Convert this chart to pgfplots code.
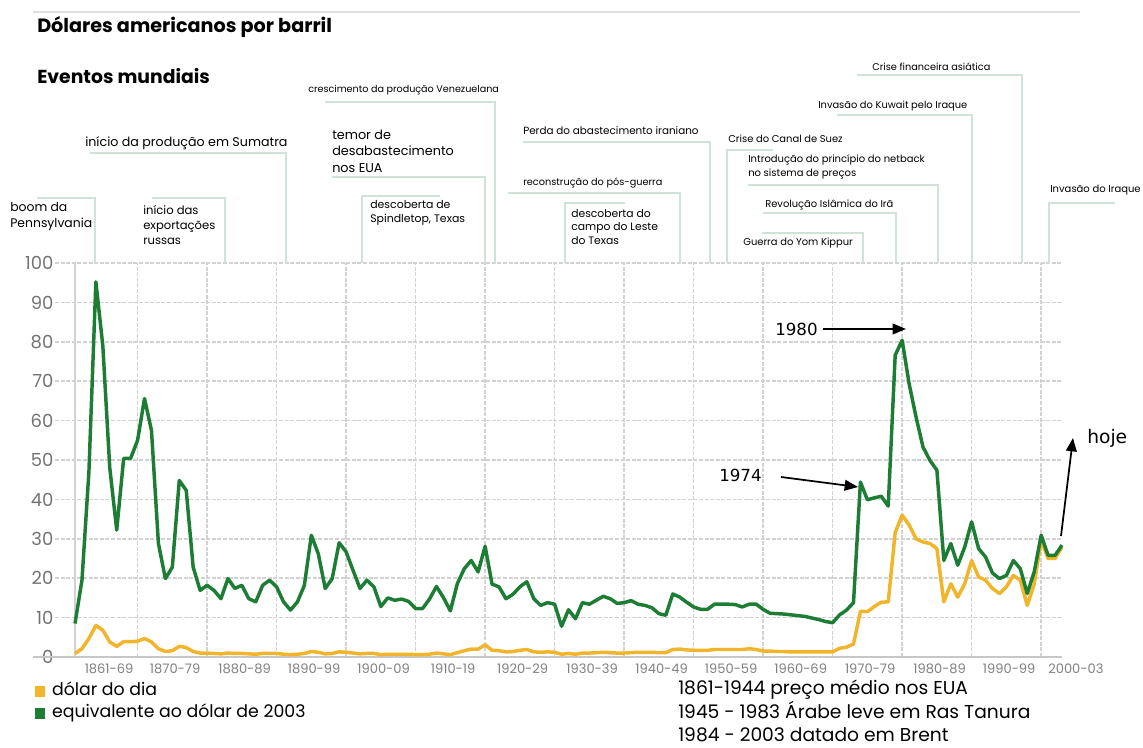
\documentclass[border=0pt]{standalone}
\usepackage{pgfplots}
\pgfplotsset{compat=1.18}
\usepackage{pgfplotstable}
\usepackage{fontspec}
\setmainfont{Poppins}
\newfontfamily\arrfont{DejaVu Sans}
\usetikzlibrary{arrows.meta}
\definecolor{grn}{HTML}{1E7D34}
\definecolor{ylw}{HTML}{F2B42A}
\definecolor{brk}{HTML}{CFE3D8}
\definecolor{grd}{HTML}{D2D2D2}

\pgfplotstableread{
year real
1861 8.5
1862 19.5
1863 47
1864 95.2
1865 79
1866 48
1867 32.2
1868 50.4
1869 50.4
1870 55
1871 65.6
1872 57.5
1873 28.8
1874 19.9
1875 22.8
1876 44.8
1877 42.3
1878 22.8
1879 16.9
1880 18.2
1881 16.9
1882 14.8
1883 19.9
1884 17.4
1885 18.2
1886 14.8
1887 14.0
1888 18.2
1889 19.5
1890 17.8
1891 14.0
1892 11.9
1893 14.0
1894 18.2
1895 30.9
1896 26.2
1897 17.4
1898 19.9
1899 29.0
1900 26.7
1901 22.0
1902 17.4
1903 19.5
1904 17.8
1905 12.8
1906 15.0
1907 14.4
1908 14.7
1909 14.1
1910 12.3
1911 12.3
1912 14.7
1913 17.9
1914 15.1
1915 11.7
1916 18.6
1917 22.4
1918 24.5
1919 21.6
1920 28.1
1921 18.5
1922 17.8
1923 14.8
1924 15.9
1925 17.8
1926 19.1
1927 14.8
1928 13.1
1929 13.8
1930 13.4
1931 7.8
1932 12.0
1933 9.7
1934 13.8
1935 13.4
1936 14.4
1937 15.4
1938 14.8
1939 13.6
1940 13.8
1941 14.3
1942 13.4
1943 13.1
1944 12.5
1945 11.0
1946 10.6
1947 16.0
1948 15.2
1949 13.9
1950 12.7
1951 12.1
1952 12.1
1953 13.4
1954 13.4
1955 13.4
1956 13.3
1957 12.7
1958 13.4
1959 13.4
1960 12.1
1961 11.1
1962 11.0
1963 10.9
1964 10.7
1965 10.5
1966 10.3
1967 9.9
1968 9.5
1969 9.0
1970 8.7
1971 10.7
1972 11.9
1973 13.8
1974 44.4
1975 39.9
1976 40.4
1977 40.8
1978 38.3
1979 76.6
1980 80.4
1981 69.4
1982 60.9
1983 53.3
1984 49.9
1985 47.4
1986 24.5
1987 28.8
1988 23.3
1989 27.9
1990 34.3
1991 27.5
1992 25.4
1993 21.3
1994 19.9
1995 20.7
1996 24.5
1997 22.4
1998 16.1
1999 21.6
2000 30.9
2001 25.8
2002 25.8
2003 28.4
}\realtable

\pgfplotstableread{
year nominal
1861 0.9
1862 2.1
1863 4.7
1864 8.0
1865 6.8
1866 3.8
1867 2.7
1868 3.9
1869 3.9
1870 4.0
1871 4.7
1872 3.8
1873 2.1
1874 1.4
1875 1.6
1876 2.7
1877 2.4
1878 1.4
1879 1.0
1880 1.0
1881 0.9
1882 0.8
1883 1.0
1884 0.9
1885 0.9
1886 0.8
1887 0.7
1888 0.9
1889 0.9
1890 0.9
1891 0.7
1892 0.6
1893 0.7
1894 0.9
1895 1.4
1896 1.2
1897 0.8
1898 0.9
1899 1.3
1900 1.2
1901 1.0
1902 0.8
1903 0.9
1904 0.9
1905 0.6
1906 0.7
1907 0.7
1908 0.7
1909 0.7
1910 0.6
1911 0.6
1912 0.7
1913 1.0
1914 0.8
1915 0.6
1916 1.1
1917 1.6
1918 2.0
1919 2.0
1920 3.1
1921 1.7
1922 1.6
1923 1.3
1924 1.4
1925 1.7
1926 1.9
1927 1.3
1928 1.2
1929 1.3
1930 1.2
1931 0.7
1932 0.9
1933 0.7
1934 1.0
1935 1.0
1936 1.1
1937 1.2
1938 1.1
1939 1.0
1940 1.0
1941 1.1
1942 1.2
1943 1.2
1944 1.2
1945 1.1
1946 1.1
1947 1.9
1948 2.0
1949 1.8
1950 1.7
1951 1.7
1952 1.7
1953 1.9
1954 1.9
1955 1.9
1956 1.9
1957 1.9
1958 2.1
1959 1.9
1960 1.5
1961 1.5
1962 1.4
1963 1.4
1964 1.3
1965 1.3
1966 1.3
1967 1.3
1968 1.3
1969 1.3
1970 1.3
1971 2.2
1972 2.5
1973 3.3
1974 11.6
1975 11.5
1976 12.8
1977 13.9
1978 14.0
1979 31.6
1980 36.0
1981 33.5
1982 30.0
1983 29.2
1984 28.8
1985 27.5
1986 14.0
1987 18.6
1988 15.2
1989 18.6
1990 24.5
1991 20.3
1992 19.5
1993 17.4
1994 16.1
1995 17.8
1996 20.7
1997 19.5
1998 13.1
1999 18.5
2000 29.6
2001 25.0
2002 25.0
2003 27.9
}\nominaltable

\begin{document}
\begin{tikzpicture}
\useasboundingbox (0,0) rectangle (857.25pt,560.25pt);
\begin{axis}[
  at={(41.25pt,67.5pt)}, anchor=south west,
  scale only axis, width=755.25pt, height=295.5pt,
  xmin=1858.12, xmax=2003, ymin=0, ymax=100,
  axis line style={draw=none},
  xtick={1870,1880,...,2000}, xticklabels={},
  ytick={0,10,...,100},
  major tick length=0pt,
  xmajorgrids, ymajorgrids,
  grid style={grd, line width=1.1pt, dash pattern=on 3pt off 1.2pt},
  /pgf/number format/assume math mode=true,
  yticklabel style={font=\fontsize{13.5}{13.5}\selectfont, text=black!55, inner sep=1pt},
  extra x ticks={1865.9,1875.4,1885.4,1895.4,1905.4,1915.4,1925.4,1935.4,1945.4,1955.4,1965.4,1975.4,1985.4,1995.4},
  extra x tick labels={1861-69,1870-79,1880-89,1890-99,1900-09,1910-19,1920-29,1930-39,1940-49,1950-59,1960-69,1970-79,1980-89,1990-99},
  extra x tick style={grid=none, major tick length=0pt,
    tick label style={font=\fontsize{9.8}{9.8}\selectfont, text=black!50, anchor=center, yshift=-9pt}},
  clip=false,
  legend cell align=left,
  legend style={at={(-0.023,-0.062)}, anchor=north west, draw=none, fill=none,
    font=\fontsize{13}{13}\selectfont, row sep=2pt, inner sep=0pt,
    nodes={inner sep=1pt, text height=9.5pt, text depth=3pt}},
  legend image code/.code={\fill[draw=none] (2pt,-4pt) rectangle (10pt,4pt); \path[draw=none] (0pt,0pt) -- (14pt,0pt);},
]
\draw[grd, line width=1.1pt] (axis cs:1861,0) -- (axis cs:1861,100);
\draw[black!22, line width=1pt] (axis cs:1854.95,0) -- (axis cs:2003,0);
\addplot[ylw, line width=2.6pt, line join=round] table[x=year,y=nominal] {\nominaltable};
\addlegendentry{dólar do dia}
\addplot[grn, line width=2.6pt, line join=round] table[x=year,y=real] {\realtable};
\addlegendentry{equivalente ao dólar de 2003}
\node[font=\fontsize{9.8}{9.8}\selectfont, text=black!50, anchor=center] at (axis cs:2005,0) [yshift=-9pt] {2000-03};
\end{axis}

\begin{scope}[shift={(0pt,560.25pt)}, x=0.75pt, y=-0.75pt]
  % top rule
  \draw[black!12, line width=1.2pt] (33,12) -- (1080,12);
  % titles
  \node[anchor=west, inner sep=0, font=\bfseries\fontsize{14.4}{14.4}\selectfont] at (37,27) {Dólares americanos por barril};
  \node[anchor=west, inner sep=0, font=\bfseries\fontsize{14.1}{14.1}\selectfont] at (37,76) {Eventos mundiais};
  % brackets
  \begin{scope}[brk, line width=1.1pt]
    \draw (37,198) -- (95,198) -- (95,263);
    \draw (152,198) -- (225,198) -- (225,263);
    \draw (90,153) -- (286,153) -- (286,263);
    \draw (325,102) -- (495,102) -- (495,263);
    \draw (332,177) -- (485,177) -- (485,263);
    \draw (440,196) -- (362,196) -- (362,263);
    \draw (523,142) -- (710,142) -- (710,263);
    \draw (508,193) -- (680,193) -- (680,263);
    \draw (625,203) -- (565,203) -- (565,263);
    \draw (773,150) -- (727,150) -- (727,263);
    \draw (748,185) -- (938,185) -- (938,263);
    \draw (763,213) -- (896,213) -- (896,263);
    \draw (762,233) -- (863,233) -- (863,263);
    \draw (837,115) -- (972,115) -- (972,263);
    \draw (857,75) -- (1022,75) -- (1022,263);
    \draw (1115,203) -- (1049,203) -- (1049,263);
  \end{scope}
  % event labels
  \begin{scope}[every node/.style={anchor=west, inner sep=0, align=left}]
    \node[font=\fontsize{9.3}{12}\selectfont] at (10,217) {boom da\\Pennsylvania};
    \node[font=\fontsize{8.7}{11.5}\selectfont] at (143,225) {início das\\exportações\\russas};
    \node[font=\fontsize{9.5}{12}\selectfont] at (85,143) {início da produção em Sumatra};
    \node[font=\fontsize{7.2}{9}\selectfont] at (308,90) {crescimento da produção Venezuelana};
    \node[font=\fontsize{9.6}{12.5}\selectfont] at (332,151) {temor de\\desabastecimento\\nos EUA};
    \node[font=\fontsize{8.2}{10}\selectfont] at (370,213) {descoberta de\\Spindletop, Texas};
    \node[font=\fontsize{7.8}{9}\selectfont] at (523,131) {Perda do abastecimento iraniano};
    \node[font=\fontsize{7.3}{9}\selectfont] at (523,183) {reconstrução do pós-guerra};
    \node[font=\fontsize{8.1}{9.8}\selectfont] at (571,227) {descoberta do\\campo do Leste\\do Texas};
    \node[font=\fontsize{7.45}{9}\selectfont] at (728,139) {Crise do Canal de Suez};
    \node[font=\fontsize{7.5}{11}\selectfont] at (748,167) {Introdução do princípio do netback\\no sistema de preços};
    \node[font=\fontsize{7.45}{9}\selectfont] at (765,205) {Revolução Islâmica do Irã};
    \node[font=\fontsize{7.45}{9}\selectfont] at (743,243) {Guerra do Yom Kippur};
    \node[font=\fontsize{7.4}{9}\selectfont] at (818,106) {Invasão do Kuwait pelo Iraque};
    \node[font=\fontsize{7.3}{9}\selectfont] at (872,67) {Crise financeira asiática};
    \node[font=\fontsize{7.5}{9}\selectfont] at (1050,190) {Invasão do Iraque};
  \end{scope}
  % arrows and year notes
  \node[anchor=west, inner sep=0, font=\arrfont\fontsize{12.5}{12.5}\selectfont] at (775,329) {1980};
  \draw[line width=1.3pt, -{Triangle[length=10pt,width=8pt]}] (823,329) -- (906,329);
  \node[anchor=west, inner sep=0, font=\arrfont\fontsize{12.5}{12.5}\selectfont] at (719,475) {1974};
  \draw[line width=1.3pt, -{Triangle[length=10pt,width=8pt]}] (781,477) -- (858,487);
  \node[anchor=west, inner sep=0, font=\arrfont\fontsize{14}{14}\selectfont] at (1087,438) {hoje};
  \draw[line width=1.3pt, -{Triangle[length=10pt,width=8pt]}] (1061,536) -- (1073,438);
  % source note
  \node[anchor=west, inner sep=0, align=left, font=\fontsize{14}{17.4}\selectfont] at (678,711)
    {1861-1944 preço médio nos EUA\\1945 - 1983 Árabe leve em Ras Tanura\\1984 - 2003 datado em Brent};
\end{scope}
\end{tikzpicture}
\end{document}
